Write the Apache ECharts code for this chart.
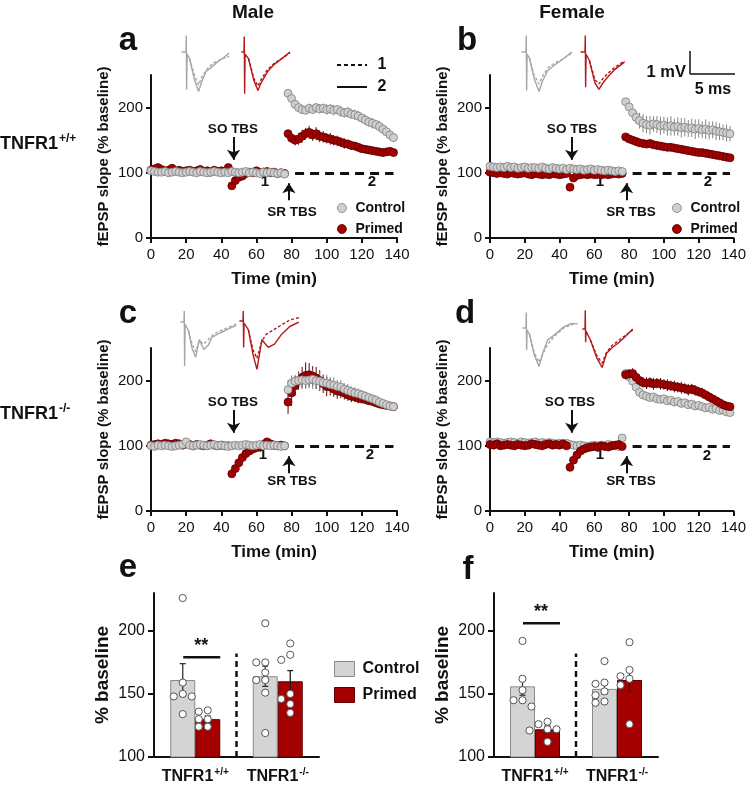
<!DOCTYPE html>
<html>
<head>
<meta charset="utf-8">
<script src="https://cdn.jsdelivr.net/npm/echarts@6.0.0/dist/echarts.min.js"></script>
<style>html,body{margin:0;padding:0;background:#fff}#main{width:749px;height:785px}</style>
</head>
<body>
<div id="main"></div>
<script>
const FONT = '"Liberation Sans", Arial, Helvetica, sans-serif';
const INK = '#111';
const GREY = '#cfcfcf', GREY_EDGE = '#7d7d7d';
const RED = '#a50000', RED_EDGE = '#5e0000';
const TRACE_GREY = '#a6a6a6', TRACE_RED = '#b41818';

// time course: one point every 2 min, the first 39 are before SR TBS
const timeMin = [0,2,4,6,8,10,12,14,16,18,20,22,24,26,28,30,32,34,36,38,40,42,44,46,48,50,52,54,56,58,60,62,64,66,68,70,72,74,76,
  78,80,82,84,86,88,90,92,94,96,98,100,102,104,106,108,110,112,114,116,118,120,122,124,126,128,130,132,134,136,138];
const BASE_N = 39;
const slopeTicks = [0, 100, 200];

// a: male TNFR1+/+
const aControl = [103,102,101,101,102,100,101,102,101,100, 101,102,101,100,102,101,100,101,102,101, 100,101,100,102,101,100,101,102,100,101, 100,99,101,100,101,100,99,100,98,
  222,214,205,200,197,196,199,197,200,198, 199,197,198,196,197,194,192,193,190,189, 187,184,181,178,176,174,171,167,163,158, 154];
const aPrimed = [104,106,108,105,103,104,107,103,104,102, 103,104,102,103,105,102,103,101,104,102, 103,102,108,80,88,93,95,99,101,100, 103,100,101,102,100,101,99,100,99,
  160,153,150,152,156,160,162,158,160,156, 155,153,152,150,149,147,145,144,142,141, 139,137,136,135,134,133,132,131,132,133, 131];
const aErrControl = [4,5,6,6,7,6,7,6,7,7, 7,8,7,8,7,8,7,8,7,8, 8,7,8,7,8,7,8,7,8,7, 6];
const aErrPrimed = [6,7,8,9,10,9,10,9,10,9, 9,8,9,8,8,7,8,7,7,6, 6,5,5,5,4,4,4,4,4,4, 4];

// b: female TNFR1+/+
const bControl = [110,109,108,109,108,110,108,109,107,108, 109,107,108,108,107,109,107,106,108,107, 106,107,105,107,106,105,106,104,105,106, 104,105,104,103,104,103,102,103,102,
  209,201,192,185,180,176,174,173,175,174, 172,173,171,172,170,171,169,170,168,169, 167,168,166,167,165,166,164,163,162,161, 160];
const bPrimed = [101,100,99,100,99,98,100,99,98,99, 100,98,97,99,98,97,98,97,99,98, 97,98,99,78,92,96,97,98,97,98, 97,98,97,98,97,98,99,98,99,
  155,152,150,148,146,145,144,145,143,142, 141,140,139,139,138,137,136,135,134,133, 132,131,131,130,129,128,127,126,125,124, 123];
const bErrControl = [5,6,8,10,12,14,13,14,12,13, 14,13,14,15,13,14,15,14,13,14, 15,14,13,15,14,13,14,13,12,13, 12];
const bErrPrimed = [3,3,3,3,3,3,3,3,3,3, 3,3,3,3,3,3,3,3,3,3, 3,3,3,3,3,3,3,3,3,3, 3];

// c: male TNFR1-/-
const cControl = [100,99,101,100,101,100,99,100,101,102, 106,101,100,101,102,101,100,101,102,100, 101,100,99,100,101,100,101,102,101,100, 101,102,100,101,100,101,100,99,100,
  186,196,199,200,201,200,201,202,200,199, 197,196,194,193,191,190,187,185,183,181, 180,178,176,174,172,170,167,165,163,161, 160];
const cPrimed = [101,102,103,102,104,103,102,104,103,101, 103,102,100,102,101,100,101,103,101,100, 101,100,100,57,65,74,82,88,92,95, 97,99,102,106,103,101,100,101,100,
  167,181,192,200,205,208,209,207,204,200, 195,191,190,187,184,183,181,178,176,175, 173,172,171,169,168,166,164,163,162,161, 160];
const cErrControl = [15,12,10,12,14,12,13,15,12,14, 12,13,11,12,10,11,9,10,8,9, 8,7,7,6,6,5,5,5,4,4, 4];
const cErrPrimed = [18,20,15,14,16,20,18,15,17,16, 14,15,13,12,12,10,10,9,9,8, 8,7,7,6,6,5,5,5,4,4, 4];

// d: female TNFR1-/-
const dControl = [106,105,106,105,104,105,106,105,104,106, 105,104,105,106,104,105,104,105,104,103, 104,103,104,102,101,100,101,100,99,100, 101,100,101,100,102,101,100,99,112,
  211,206,199,190,182,178,176,174,175,172, 171,172,169,170,167,168,165,166,163,164, 161,162,160,158,159,156,157,154,155,152, 151];
const dPrimed = [102,101,103,100,101,102,101,100,102,101, 100,101,103,102,101,100,102,103,101,102, 101,103,100,67,78,86,92,95,97,98, 99,98,100,99,98,100,101,102,99,
  209,210,211,205,200,197,196,197,195,196, 195,194,193,192,191,190,189,188,186,187, 185,183,181,178,175,172,169,166,163,161, 160];
const dErrControl = [6,6,5,5,5,5,5,5,5,5, 5,5,5,5,5,5,5,5,5,5, 5,5,5,5,5,5,5,5,5,5, 5];
const dErrPrimed = [7,8,8,9,9,8,9,8,9,8, 9,8,9,8,9,8,9,8,9,8, 8,7,8,7,7,6,6,6,5,5, 5];

// example fEPSP traces [ms, mV]; "1" = before SR TBS (dashed), "2" = after (solid)
const aTraceControl2 = [[-0.5,0],[0,0],[0.03,0.75],[0.07,-1.7],[0.12,-0.1],[0.4,-0.3],[0.9,-1.2],[1.4,-1.8],[1.7,-1.4],[2.2,-0.9],[2.8,-0.7],[3.5,-0.45],[4.2,-0.25],[4.8,-0.05]];
const aTraceControl1 = [[0.4,-0.3],[0.9,-1.0],[1.4,-1.5],[1.8,-1.1],[2.4,-0.75],[3.0,-0.5],[3.8,-0.35],[4.8,-0.2]];
const aTracePrimed2 = [[-0.3,0],[0,0],[0.03,0.7],[0.07,-1.9],[0.12,-0.1],[0.5,-0.3],[1.1,-1.3],[1.55,-1.75],[1.9,-1.4],[2.6,-0.9],[3.4,-0.55],[4.2,-0.3],[5.1,0]];
const aTracePrimed1 = [[0.5,-0.3],[1.1,-1.2],[1.55,-1.55],[1.9,-1.25],[2.6,-0.8],[3.4,-0.5],[4.2,-0.3],[5.1,-0.05]];
const bTraceControl2 = [[-0.5,0],[0,0],[0.03,0.75],[0.07,-1.75],[0.12,-0.1],[0.4,-0.3],[0.9,-1.2],[1.45,-1.8],[1.8,-1.35],[2.4,-0.85],[3.0,-0.65],[4.0,-0.35],[5.1,0]];
const bTraceControl1 = [[0.4,-0.3],[0.9,-1.05],[1.45,-1.45],[1.9,-1.05],[2.5,-0.7],[3.2,-0.5],[4.2,-0.3],[5.1,-0.05]];
const bTracePrimed2 = [[-0.5,0],[0,0],[0.03,0.75],[0.07,-1.6],[0.12,-0.1],[0.5,-0.4],[1.1,-1.4],[1.55,-1.7],[2.0,-1.4],[2.6,-1.1],[3.3,-0.8],[4.4,-0.45]];
const bTracePrimed1 = [[0.5,-0.4],[1.1,-1.25],[1.55,-1.45],[2.0,-1.2],[2.6,-0.95],[3.3,-0.7],[4.4,-0.4]];
const cTraceControl2 = [[-0.4,0],[0,0],[0.03,0.5],[0.07,-2.0],[0.12,-0.1],[0.5,-0.4],[0.9,-1.2],[1.3,-1.6],[1.7,-0.8],[2.2,-1.25],[2.7,-1.05],[3.1,-0.7],[4.0,-0.5],[5.0,-0.3],[5.8,-0.15]];
const cTraceControl1 = [[0.5,-0.4],[0.9,-1.0],[1.3,-1.35],[1.7,-0.85],[2.2,-1.0],[2.7,-0.8],[3.3,-0.55],[4.3,-0.35],[5.8,-0.1]];
const cTracePrimed2 = [[-0.4,0],[0,0],[0.03,0.45],[0.07,-1.2],[0.12,-0.1],[0.6,-0.4],[1.1,-1.5],[1.55,-2.2],[2.1,-0.85],[2.8,-1.2],[3.5,-1.05],[4.3,-0.6],[5.2,-0.25],[6.2,-0.05]];
const cTracePrimed1 = [[0.6,-0.4],[1.1,-1.3],[1.55,-1.7],[2.1,-0.9],[2.6,-0.6],[3.2,-0.45],[4.2,-0.2],[5.2,0.05],[6.2,0.15]];
const dTraceControl2 = [[-0.4,0],[0,0],[0.03,0.7],[0.07,-1.0],[0.12,-0.1],[0.4,-0.3],[0.9,-1.2],[1.45,-1.75],[1.9,-1.1],[2.4,-0.55],[3.2,-0.3],[4.2,0.05],[5.0,0.2],[5.7,0.2]];
const dTraceControl1 = [[0.4,-0.3],[0.9,-1.1],[1.45,-1.55],[1.9,-1.15],[2.4,-0.75],[3.2,-0.35],[4.2,0.0],[5.0,0.15],[5.7,0.2]];
const dTracePrimed2 = [[-0.3,0],[0,0],[0.03,0.85],[0.07,-0.6],[0.12,-0.1],[0.6,-0.5],[1.3,-1.3],[1.9,-1.75],[2.4,-1.1],[3.0,-0.85],[3.8,-0.6],[4.6,-0.3],[5.3,0]];
const dTracePrimed1 = [[0.6,-0.5],[1.3,-1.2],[1.9,-1.55],[2.4,-1.05],[3.0,-0.75],[3.8,-0.5],[4.6,-0.25],[5.3,-0.05]];

// e, f: LTP summary (% baseline)
const groups = ['TNFR1+/+', 'TNFR1-/-'];
const baselineTicks = [100, 150, 200];
const eControlMean = [161, 164], eControlSem = [13, 8];
const ePrimedMean = [130, 160], ePrimedSem = [2.5, 8.5];
const eControlPts = [[226,159,150,148,148,134], [206,175,175,167,161,161,151,119]];
const ePrimedPts = [[137,136,130,130,124,124], [190,181,177,150,146,142,135]];
const fControlMean = [156, 154], fControlSem = [7, 4];
const fPrimedMean = [122, 161], fPrimedSem = [2.5, 9];
const fControlPts = [[192,162,153,145,145,140], [176,159,158,152,149,144,143]];
const fPrimedPts = [[128,126,122,122,121,112], [191,169,164,162,157,126]];

const chart = echarts.init(document.getElementById('main'));
const grids = [], xAxes = [], yAxes = [], series = [];

function errSeries(g, data, color) {
  return {
    type: 'custom', xAxisIndex: g, yAxisIndex: g, z: 1, silent: true,
    encode: { x: 0, y: 1 },
    renderItem: (params, api) => {
      const x = api.value(0), y = api.value(1), e = api.value(2);
      const top = api.coord([x, y + e]), bot = api.coord([x, y - e]);
      return { type: 'line', shape: { x1: top[0], y1: top[1], x2: bot[0], y2: bot[1] }, style: { stroke: color, lineWidth: 1 } };
    },
    data
  };
}

function timePanel(pos, ctrl, prim, errC, errP, primedOnTop) {
  const g = grids.length;
  grids.push(pos);
  xAxes.push({
    type: 'value', gridIndex: g, min: 0, max: 140, interval: 20,
    axisLine: { show: true, onZero: false, lineStyle: { color: INK, width: 2 } },
    axisTick: { show: true, length: 5, lineStyle: { color: INK, width: 2 } },
    axisLabel: { color: INK, fontSize: 15, fontFamily: FONT, margin: 9 },
    splitLine: { show: false },
    name: 'Time (min)', nameLocation: 'middle', nameGap: 33,
    nameTextStyle: { color: INK, fontSize: 17, fontWeight: 'bold', fontFamily: FONT }
  });
  yAxes.push({
    type: 'value', gridIndex: g, min: 0, max: 250, interval: 100,
    axisLine: { show: true, lineStyle: { color: INK, width: 2 } },
    axisTick: { show: true, length: 5, lineStyle: { color: INK, width: 2 }, customValues: slopeTicks },
    axisLabel: { color: INK, fontSize: 15, fontFamily: FONT, margin: 8, customValues: slopeTicks },
    splitLine: { show: false },
    name: 'fEPSP slope (% baseline)', nameLocation: 'middle', nameGap: 40,
    nameTextStyle: { color: INK, fontSize: 15, fontWeight: 'bold', fontFamily: FONT }
  });
  const pts = arr => timeMin.map((t, i) => [t, arr[i]]);
  const errs = (arr, err) => err.map((e, i) => [timeMin[BASE_N + i], arr[BASE_N + i], e]);
  series.push(errSeries(g, errs(prim, errP), RED_EDGE));
  series.push(errSeries(g, errs(ctrl, errC), '#858585'));
  const sc = (name, arr, fill, edge, z) => ({
    type: 'scatter', name, xAxisIndex: g, yAxisIndex: g, z, silent: true,
    data: pts(arr), symbolSize: 8,
    itemStyle: { color: fill, borderColor: edge, borderWidth: 0.8, opacity: 1 }
  });
  const pSeries = sc('Primed', prim, RED, RED_EDGE, primedOnTop ? 4 : 3);
  const cSeries = sc('Control', ctrl, GREY, GREY_EDGE, primedOnTop ? 3 : 4);
  const arrowStyle = { color: INK, width: 2, type: 'solid' };
  cSeries.markLine = {
    silent: true, animation: false, label: { show: false }, symbolSize: 10,
    data: [
      [{ coord: [82, 100], symbol: 'none', lineStyle: { color: INK, width: 3, type: [9, 6] } }, { coord: [138, 100], symbol: 'none' }],
      [{ coord: [47, 155], symbol: 'none', lineStyle: arrowStyle }, { coord: [47, 120], symbol: 'arrow' }],
      [{ coord: [78.5, 58], symbol: 'none', lineStyle: arrowStyle }, { coord: [78.5, 84], symbol: 'arrow' }]
    ]
  };
  series.push(pSeries, cSeries);
}

timePanel({ left: 151, top: 75, width: 246, height: 163 }, aControl, aPrimed, aErrControl, aErrPrimed, false);
timePanel({ left: 490, top: 75, width: 245, height: 163 }, bControl, bPrimed, bErrControl, bErrPrimed, false);
timePanel({ left: 151, top: 348, width: 246, height: 163 }, cControl, cPrimed, cErrControl, cErrPrimed, false);
timePanel({ left: 490, top: 348, width: 245, height: 163 }, dControl, dPrimed, dErrControl, dErrPrimed, true);

// GraphPad-like column scatter: close values get side-by-side slots
function slots(values, thresh) {
  const order = values.map((v, i) => i).sort((a, b) => values[b] - values[a]);
  const res = new Array(values.length), placed = [];
  const pref = [0, -1, 1, -2, 2];
  for (const i of order) {
    const near = placed.filter(p => Math.abs(values[p] - values[i]) < thresh).map(p => res[p]);
    res[i] = pref.find(s => !near.includes(s));
    placed.push(i);
  }
  return res;
}

const BAR_W = 25;
function barPanel(pos, ctrlMean, ctrlSem, primMean, primSem, ctrlPts, primPts) {
  const g = grids.length;
  grids.push(pos);
  xAxes.push({
    type: 'category', gridIndex: g, data: groups,
    axisLine: { show: true, lineStyle: { color: INK, width: 2 } },
    axisTick: { show: false },
    axisLabel: {
      margin: 10, interval: 0, hideOverlap: false,
      formatter: v => v.replace(/^(TNFR1)(.*)$/, '{b|$1}{s|$2}'),
      rich: {
        b: { fontSize: 16, fontWeight: 'bold', fontFamily: FONT, color: INK, lineHeight: 18, verticalAlign: 'bottom' },
        s: { fontSize: 10, fontWeight: 'bold', fontFamily: FONT, color: INK, lineHeight: 18, verticalAlign: 'top', padding: [0, 0, 8, 1] }
      }
    }
  });
  yAxes.push({
    type: 'value', gridIndex: g, min: 100, max: 230, interval: 50,
    axisLine: { show: true, lineStyle: { color: INK, width: 2 } },
    axisTick: { show: true, length: 6, lineStyle: { color: INK, width: 2 }, customValues: baselineTicks },
    axisLabel: { color: INK, fontSize: 16, fontFamily: FONT, margin: 9, customValues: baselineTicks },
    splitLine: { show: false },
    name: '% baseline', nameLocation: 'middle', nameGap: 42,
    nameTextStyle: { color: INK, fontSize: 19, fontWeight: 'bold', fontFamily: FONT }
  });
  const bar = (name, data, fill, edge) => ({
    type: 'bar', name, xAxisIndex: g, yAxisIndex: g, data, barWidth: BAR_W, barGap: '0%', z: 2, silent: true,
    itemStyle: { color: fill, borderColor: edge, borderWidth: 1 }
  });
  series.push(bar('Control', ctrlMean, '#d4d4d4', '#8a8a8a'), bar('Primed', primMean, RED, RED_EDGE));
  const semSeries = (means, sems, side, color) => ({
    type: 'custom', xAxisIndex: g, yAxisIndex: g, z: 3, silent: true, encode: { x: 0, y: 1 },
    renderItem: (params, api) => {
      const c = api.value(0), m = api.value(1), s = api.value(2);
      const top = api.coord([c, m + s]), bot = api.coord([c, m - s]);
      const x = top[0] + side * BAR_W / 2;
      return { type: 'group', children: [
        { type: 'line', shape: { x1: x, y1: top[1], x2: x, y2: bot[1] }, style: { stroke: color, lineWidth: 1.3 } },
        { type: 'line', shape: { x1: x - 3, y1: top[1], x2: x + 3, y2: top[1] }, style: { stroke: color, lineWidth: 1.3 } },
        { type: 'line', shape: { x1: x - 3, y1: bot[1], x2: x + 3, y2: bot[1] }, style: { stroke: color, lineWidth: 1.3 } }
      ] };
    },
    data: means.map((m, i) => [i, m, sems[i]])
  });
  series.push(semSeries(ctrlMean, ctrlSem, -1, '#333'), semSeries(primMean, primSem, 1, '#222'));
  const dotSeries = (ptsByGroup, side) => {
    const data = [];
    ptsByGroup.forEach((vals, gi) => {
      const sl = slots(vals, 6);
      vals.forEach((v, k) => data.push([gi, v, sl[k]]));
    });
    return {
      type: 'custom', xAxisIndex: g, yAxisIndex: g, z: 5, silent: true, encode: { x: 0, y: 1 },
      renderItem: (params, api) => {
        const p = api.coord([api.value(0), api.value(1)]);
        return { type: 'circle', shape: { cx: p[0] + side * BAR_W / 2 + api.value(2) * 9, cy: p[1], r: 3.6 },
          style: { fill: '#fff', stroke: '#555', lineWidth: 1 } };
      },
      data
    };
  };
  series.push(dotSeries(ctrlPts, -1), dotSeries(primPts, 1));
}

barPanel({ left: 154, top: 593, width: 165, height: 164 }, eControlMean, eControlSem, ePrimedMean, ePrimedSem, eControlPts, ePrimedPts);
barPanel({ left: 494, top: 593, width: 164, height: 164 }, fControlMean, fControlSem, fPrimedMean, fPrimedSem, fControlPts, fPrimedPts);

// trace insets: 9 px per ms, 22 px per mV, placed at their artifact / baseline point
function traceInset(ox, oy, solid, dashed, color) {
  const g = grids.length;
  grids.push({ left: ox - 4.5, top: oy - 22, width: 63, height: 74.8 });
  xAxes.push({ type: 'value', gridIndex: g, min: -0.5, max: 6.5, show: false });
  yAxes.push({ type: 'value', gridIndex: g, min: -2.4, max: 1, show: false });
  const ln = (data, type) => ({
    type: 'line', xAxisIndex: g, yAxisIndex: g, data, showSymbol: false, silent: true, z: 2,
    lineStyle: { color, width: 1.4, type }
  });
  series.push(ln(dashed, [3, 2]), ln(solid, 'solid'));
}
traceInset(186, 52, aTraceControl2, aTraceControl1, TRACE_GREY);
traceInset(244, 52, aTracePrimed2, aTracePrimed1, TRACE_RED);
traceInset(526, 52, bTraceControl2, bTraceControl1, TRACE_GREY);
traceInset(585, 52, bTracePrimed2, bTracePrimed1, TRACE_RED);
traceInset(184, 322, cTraceControl2, cTraceControl1, TRACE_GREY);
traceInset(243, 321, cTracePrimed2, cTracePrimed1, TRACE_RED);
traceInset(526, 328, dTraceControl2, dTraceControl1, TRACE_GREY);
traceInset(585, 329, dTracePrimed2, dTracePrimed1, TRACE_RED);

const dotLegend = left => ({
  left, top: 196, orient: 'vertical', itemGap: 7, itemWidth: 9, itemHeight: 9, icon: 'circle', selectedMode: false,
  textStyle: { fontFamily: FONT, fontWeight: 'bold', fontSize: 14, color: INK, padding: [0, 0, 0, 4] },
  data: [
    { name: 'Control', itemStyle: { color: GREY, borderColor: GREY_EDGE, borderWidth: 0.8 } },
    { name: 'Primed', itemStyle: { color: RED, borderColor: RED_EDGE, borderWidth: 0.8 } }
  ]
});

chart.setOption({
  animation: false,
  textStyle: { fontFamily: FONT },
  grid: grids,
  xAxis: xAxes,
  yAxis: yAxes,
  legend: [
    dotLegend(332), dotLegend(667),
    {
      left: 329, top: 656, orient: 'vertical', itemGap: 10, itemWidth: 20, itemHeight: 15, icon: 'rect', selectedMode: false,
      textStyle: { fontFamily: FONT, fontWeight: 'bold', fontSize: 16, color: INK, padding: [0, 0, 0, 3] },
      data: [
        { name: 'Control', itemStyle: { color: '#d4d4d4', borderColor: '#8a8a8a', borderWidth: 1 } },
        { name: 'Primed', itemStyle: { color: RED, borderColor: RED_EDGE, borderWidth: 1 } }
      ]
    }
  ],
  series
});

// annotations
const txt = (x, y, text, size, extra) => ({
  type: 'text', x, y, silent: true,
  style: Object.assign({ text, fontSize: size, fontWeight: 'bold', fontFamily: FONT, fill: INK, align: 'center', verticalAlign: 'middle' }, extra || {})
});
const line = (x1, y1, x2, y2, w, dash) => ({
  type: 'line', silent: true, shape: { x1, y1, x2, y2 }, style: { stroke: INK, lineWidth: w, lineDash: dash || null }
});
const supRich = {
  b: { fontSize: 18, fontWeight: 'bold', fontFamily: FONT, fill: INK, lineHeight: 20, verticalAlign: 'bottom' },
  s: { fontSize: 12, fontWeight: 'bold', fontFamily: FONT, fill: INK, lineHeight: 20, verticalAlign: 'top', padding: [0, 0, 8, 1] }
};
const graphics = [
  txt(253, 13, 'Male', 19), txt(572, 13, 'Female', 19),
  txt(128, 41, 'a', 33), txt(467, 41, 'b', 33), txt(128, 314, 'c', 33), txt(465, 314, 'd', 33),
  txt(128, 568, 'e', 33), txt(468, 570, 'f', 33),
  txt(0, 143, '{b|TNFR1}{s|+/+}', 18, { align: 'left', rich: supRich }),
  txt(0, 413, '{b|TNFR1}{s|-/-}', 18, { align: 'left', rich: supRich }),
  // panel a, c labels
  txt(233, 129, 'SO TBS', 13.5), txt(292, 212, 'SR TBS', 13.5), txt(265, 182, '1', 15), txt(372, 182, '2', 15),
  txt(233, 402, 'SO TBS', 13.5), txt(292, 481, 'SR TBS', 13.5), txt(263, 455, '1', 15), txt(370, 455, '2', 15),
  // panel b, d labels
  txt(572, 129, 'SO TBS', 13.5), txt(631, 212, 'SR TBS', 13.5), txt(600, 182, '1', 15), txt(708, 182, '2', 15),
  txt(570, 402, 'SO TBS', 13.5), txt(631, 481, 'SR TBS', 13.5), txt(600, 455, '1', 15), txt(707, 456, '2', 15),
  // trace key
  line(337, 65, 367, 65, 2, [4, 3]), txt(382, 65, '1', 16),
  line(337, 87, 367, 87, 2), txt(382, 87, '2', 16),
  // scale bar
  line(690, 51, 690, 74, 1.5), line(690, 74, 735, 74, 1.5),
  txt(686, 72, '1 mV', 16.5, { align: 'right' }), txt(713, 90, '5 ms', 16)
];

// bar-panel separators and significance marks, placed through the axes
[4, 5].forEach(g => {
  const f = { xAxisIndex: g, yAxisIndex: g };
  const c0 = chart.convertToPixel(f, [0, 100]), c1 = chart.convertToPixel(f, [1, 100]);
  const midX = (c0[0] + c1[0]) / 2;
  const top = chart.convertToPixel(f, [0, 182])[1];
  graphics.push(line(midX, c0[1], midX, top, 2.5, [6, 4]));
  const sigVal = g === 4 ? 179 : 206;
  const sy = chart.convertToPixel(f, [0, sigVal])[1];
  graphics.push(line(c0[0] - 12, sy, c0[0] + BAR_W, sy, 2.5));
  graphics.push(txt(c0[0] + 6, sy - 11, '**', 18));
});

chart.setOption({ graphic: graphics });
</script>
</body>
</html>
